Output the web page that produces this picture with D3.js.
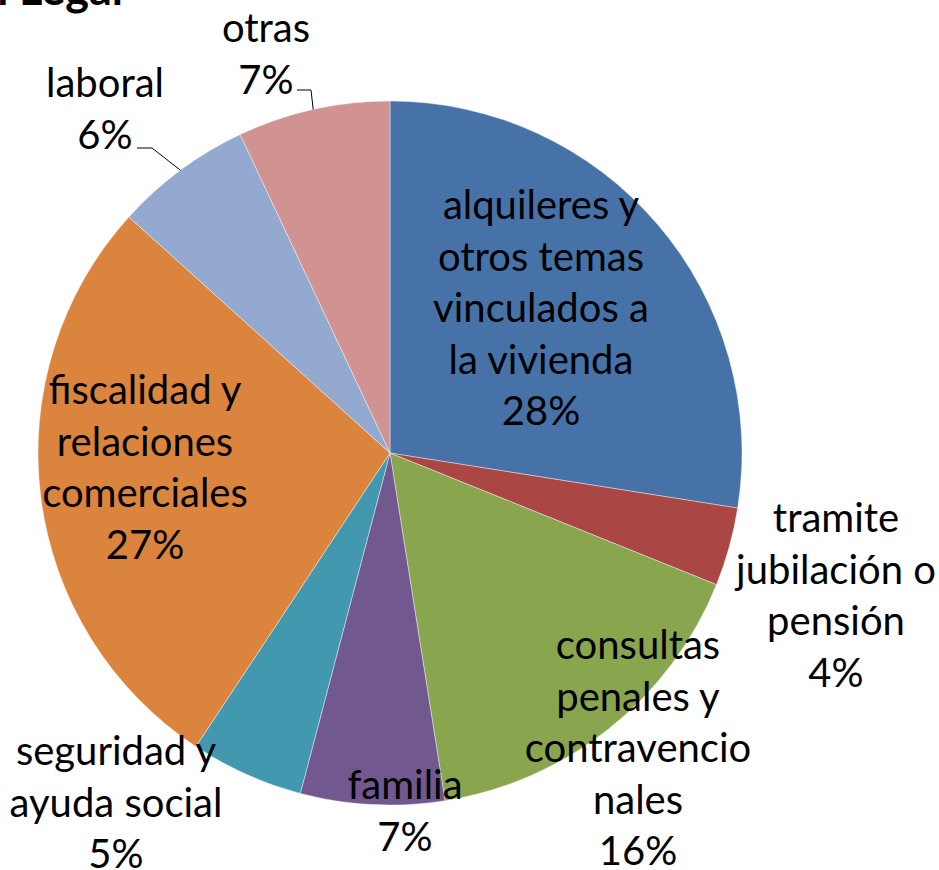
<!DOCTYPE html>
<html>
<head>
<meta charset="utf-8">
<script src="https://cdn.jsdelivr.net/npm/d3@7"></script>
<style>
  html, body { margin: 0; padding: 0; background: #fff; }
  svg text { font-family: Lato, "Noto Sans", sans-serif; fill: #000; }
</style>
</head>
<body>
<svg id="chart" width="939" height="870"></svg>
<script>
// ---- data ----
const categories = [
  "alquileres y otros temas vinculados a la vivienda",
  "tramite jubilación o pensión",
  "consultas penales y contravencionales",
  "familia",
  "seguridad y ayuda social",
  "fiscalidad y relaciones comerciales",
  "laboral",
  "otras"
];
const values = [27.5, 3.6, 16.4, 6.6, 5.2, 27.4, 6.3, 7.0];
const percentLabels = ["28%", "4%", "16%", "7%", "5%", "27%", "6%", "7%"];
const labelLines = [
  ["alquileres y", "otros temas", "vinculados a", "la vivienda"],
  ["tramite", "jubilación o", "pensión"],
  ["consultas", "penales y", "contravencio", "nales"],
  ["familia"],
  ["seguridad y", "ayuda social"],
  ["fiscalidad y", "relaciones", "comerciales"],
  ["laboral"],
  ["otras"]
];
const colors = ["#4672A8", "#AA4643", "#89A54E", "#71588F", "#4198AF", "#DB843D", "#93A9CF", "#D19392"];

// ---- layout (positions only) ----
const cx = 390, cy = 453, R = 352;
const lineH = 51.5;
const fontSize = 40;
// [x center, first baseline]
const labelPos = [
  [541, 219], [836, 532], [638, 659], [405, 799],
  [116, 765], [145, 404], [105, 97], [266, 42]
];
// leader lines: [start x, start y, elbow x] ; end on the arc
const leaders = { 6: [137, 148, 152], 7: [297, 90, 311] };

const svg = d3.select("#chart");

// Title (cut off at top)
svg.append("text")
  .attr("x", 123).attr("y", 5)
  .attr("text-anchor", "end")
  .style("font-family", "Lato, sans-serif")
  .style("font-weight", "bold")
  .style("font-size", "45px")
  .text("Orientación Legal");

const pie = d3.pie().sort(null).value(d => d)(values);
const arc = d3.arc().innerRadius(0).outerRadius(R);

const g = svg.append("g").attr("transform", `translate(${cx},${cy})`);
g.selectAll("path").data(pie).join("path")
  .attr("d", arc)
  .attr("fill", (d, i) => colors[i])
  .attr("stroke", "#ffffff")
  .attr("stroke-opacity", 0.5)
  .attr("stroke-width", 0.8);

// leader lines
Object.entries(leaders).forEach(([k, l]) => {
  const d = pie[+k];
  const a = (d.startAngle + d.endAngle) / 2;
  const ex = cx + R * Math.sin(a), ey = cy - R * Math.cos(a);
  svg.append("polyline")
    .attr("points", `${l[0]},${l[1]} ${l[2]},${l[1]} ${ex},${ey}`)
    .attr("fill", "none").attr("stroke", "#000").attr("stroke-width", 1);
});

// labels
labelLines.forEach((lines, i) => {
  const all = lines.concat([percentLabels[i]]);
  const t = svg.append("text")
    .attr("text-anchor", "middle")
    .style("font-size", fontSize + "px");
  all.forEach((s, j) => {
    t.append("tspan")
      .attr("x", labelPos[i][0])
      .attr("y", labelPos[i][1] + j * lineH)
      .text(s);
  });
});
</script>
</body>
</html>
